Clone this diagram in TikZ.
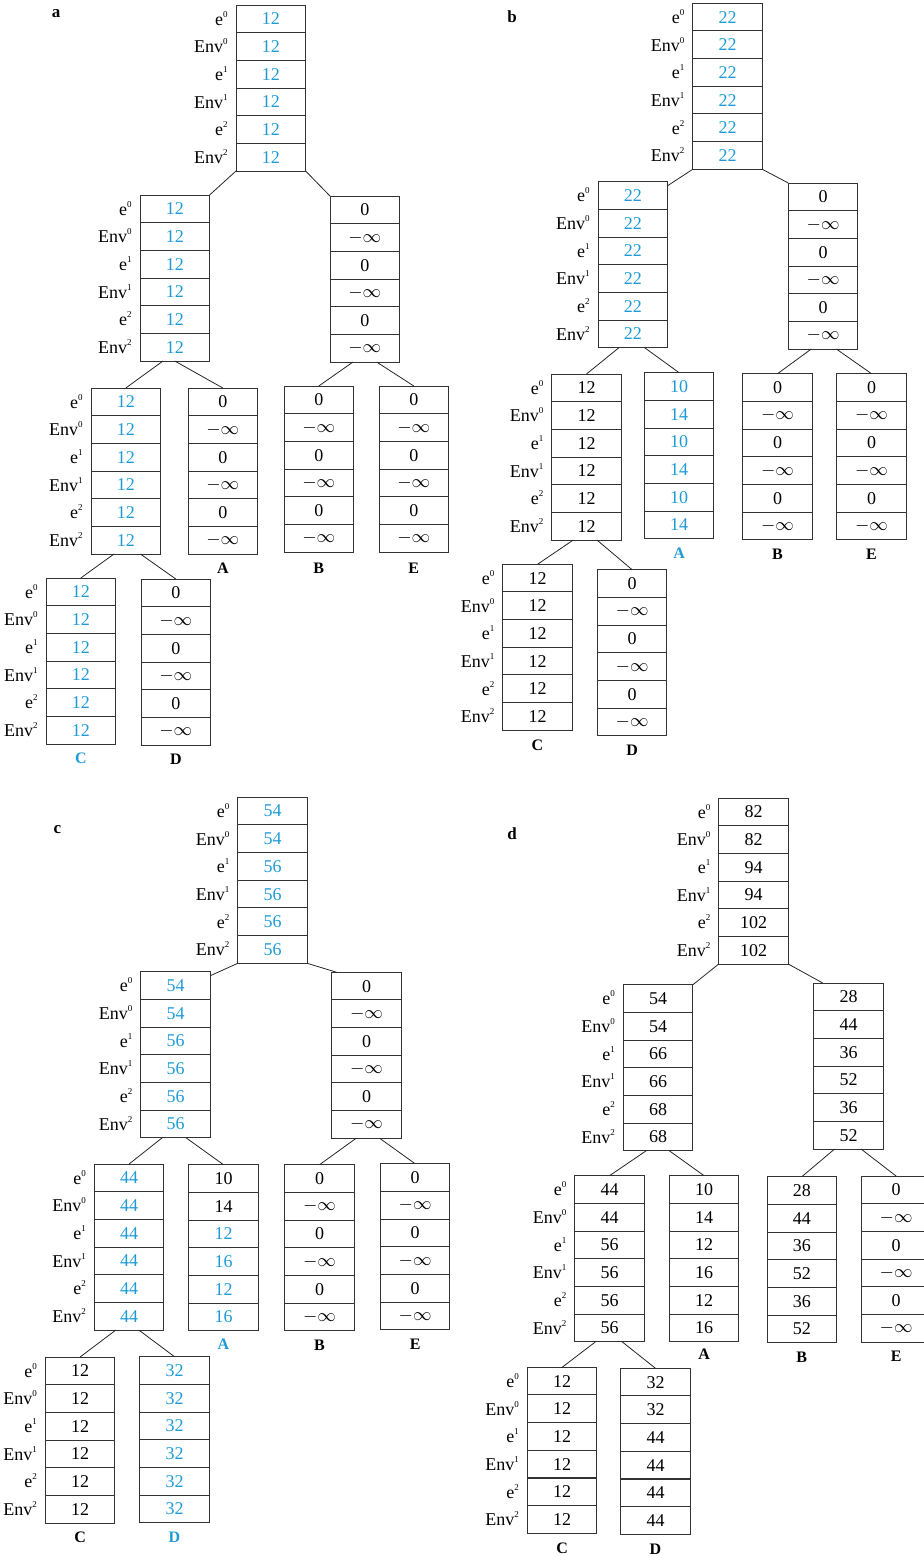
\documentclass[tikz,border=0pt]{standalone}
\usepackage{fontspec}
\setmainfont{Liberation Serif}
\usepackage{tikz}
\usetikzlibrary{positioning,fit,calc}
\definecolor{hlblue}{RGB}{30,155,215}
\tikzset{
  valcell/.style={draw=black!80, line width=0.5pt, minimum width=34.8pt, minimum height=13.83pt, inner sep=0pt, outer sep=0pt, font=\fontsize{9}{10}\selectfont},
  stackbox/.style={inner sep=0pt, outer sep=0pt},
  rowlbl/.style={anchor=base east, inner sep=0pt, font=\fontsize{9}{10}\selectfont},
  leaflbl/.style={inner sep=0pt, font=\fontsize{8}{9}\selectfont\bfseries},
  paneltag/.style={inner sep=0pt, font=\fontsize{8.5}{9}\selectfont\bfseries},
  treelink/.style={draw=black!85, line width=0.4pt}
}
\newcommand{\bl}[1]{\textcolor{hlblue}{#1}}
\newcommand{\ninf}{$-\infty$}
\newcommand{\supidx}[1]{\raisebox{0.95ex}{\fontsize{4.5}{5}\selectfont #1}}
% one stack of six cells: [text colour]{name}{left x}{top y}{values}
\newcommand{\cellstack}[5][black]{%
  \foreach \v [count=\i] in {#5} {
    \node[valcell, text=#1] (#2-\i) at ({#3+34.8},{#4+(\i-0.5)*27.67}) {\v};
  }
  \node[stackbox, fit=(#2-1)(#2-6)] (#2) {};
}
\newcommand{\rowlabels}[1]{%
  \foreach \t/\s [count=\i] in {e/0,Env/0,e/1,Env/1,e/2,Env/2}
    \node[rowlbl] at ([xshift=-4pt,yshift=-3.1pt]#1-\i.west) {\t\supidx{\s}};
}

\begin{document}
\begin{tikzpicture}[x=0.5pt,y=-0.5pt]
\useasboundingbox (0,0) rectangle (924,1557);

% panel a
\node[paneltag] (aTag) at (56,14) {a};
\cellstack[hlblue]{aRoot}{236}{5}{12,12,12,12,12,12}
\cellstack[hlblue]{aLeft}{140}{195}{12,12,12,12,12,12}
\cellstack{aRight}{330}{196}{0,\ninf,0,\ninf,0,\ninf}
\cellstack[hlblue]{aInner}{91}{388}{12,12,12,12,12,12}
\cellstack{aA}{188}{388}{0,\ninf,0,\ninf,0,\ninf}
\cellstack{aB}{284}{386}{0,\ninf,0,\ninf,0,\ninf}
\cellstack{aE}{379}{386}{0,\ninf,0,\ninf,0,\ninf}
\cellstack[hlblue]{aC}{46}{578}{12,12,12,12,12,12}
\cellstack{aD}{141}{579}{0,\ninf,0,\ninf,0,\ninf}
\rowlabels{aRoot}
\rowlabels{aLeft}
\rowlabels{aInner}
\rowlabels{aC}
\draw[treelink] (aRoot.south west) -- (aLeft.north east);
\draw[treelink] (aRoot.south east) -- (aRight.north west);
\draw[treelink] ($(aLeft.south west)!.33!(aLeft.south east)$) -- (aInner.north);
\draw[treelink] ($(aLeft.south west)!.5!(aLeft.south east)$) -- (aA.north);
\draw[treelink] ($(aRight.south west)!.33!(aRight.south east)$) -- (aB.north);
\draw[treelink] ($(aRight.south west)!.67!(aRight.south east)$) -- (aE.north);
\draw[treelink] ($(aInner.south west)!.33!(aInner.south east)$) -- (aC.north);
\draw[treelink] ($(aInner.south west)!.71!(aInner.south east)$) -- (aD.north);
\node[leaflbl, below=4.4pt of aA] (aAlbl) {A};
\node[leaflbl, below=5.5pt of aB] (aBlbl) {B};
\node[leaflbl, below=5.5pt of aE] (aElbl) {E};
\node[leaflbl, below=4.4pt of aC, text=hlblue] (aClbl) {C};
\node[leaflbl, below=4.4pt of aD] (aDlbl) {D};

% panel b
\node[paneltag] (bTag) at (512,17) {b};
\cellstack[hlblue]{bRoot}{692.7}{3.3}{22,22,22,22,22,22}
\cellstack[hlblue]{bLeft}{598}{181.7}{22,22,22,22,22,22}
\cellstack{bRight}{788.3}{183}{0,\ninf,0,\ninf,0,\ninf}
\cellstack{bInner}{551.7}{374}{12,12,12,12,12,12}
\cellstack[hlblue]{bA}{644.3}{372.7}{10,14,10,14,10,14}
\cellstack{bB}{742.7}{373.7}{0,\ninf,0,\ninf,0,\ninf}
\cellstack{bE}{836.7}{373.7}{0,\ninf,0,\ninf,0,\ninf}
\cellstack{bC}{502.7}{564.3}{12,12,12,12,12,12}
\cellstack{bD}{597.3}{569.7}{0,\ninf,0,\ninf,0,\ninf}
\rowlabels{bRoot}
\rowlabels{bLeft}
\rowlabels{bInner}
\rowlabels{bC}
\draw[treelink] (bRoot.south west) -- ([yshift=-2pt]bLeft.north east);
\draw[treelink] (bRoot.south east) -- (bRight.north west);
\draw[treelink] ($(bLeft.south west)!.3!(bLeft.south east)$) -- (bInner.north);
\draw[treelink] ($(bLeft.south west)!.67!(bLeft.south east)$) -- (bA.north);
\draw[treelink] ($(bRight.south west)!.33!(bRight.south east)$) -- (bB.north);
\draw[treelink] ($(bRight.south west)!.69!(bRight.south east)$) -- (bE.north);
\draw[treelink] ($(bInner.south west)!.31!(bInner.south east)$) -- (bC.north);
\draw[treelink] ($(bInner.south west)!.65!(bInner.south east)$) -- (bD.north);
\node[leaflbl, below=4.4pt of bA, text=hlblue] (bAlbl) {A};
\node[leaflbl, below=4.4pt of bB] (bBlbl) {B};
\node[leaflbl, below=4.4pt of bE] (bElbl) {E};
\node[leaflbl, below=4.4pt of bC] (bClbl) {C};
\node[leaflbl, below=4.4pt of bD] (bDlbl) {D};

% panel c
\node[paneltag] (cTag) at (57.3,829.3) {c};
\cellstack[hlblue]{cRoot}{237.7}{797.3}{54,54,56,56,56,56}
\cellstack[hlblue]{cLeft}{140.7}{971.7}{54,54,56,56,56,56}
\cellstack{cRight}{331.7}{972.3}{0,\ninf,0,\ninf,0,\ninf}
\cellstack[hlblue]{cInner}{94.3}{1164}{44,44,44,44,44,44}
\cellstack{cA}{188.7}{1164.7}{10,14,\bl{12},\bl{16},\bl{12},\bl{16}}
\cellstack{cB}{284.7}{1164.7}{0,\ninf,0,\ninf,0,\ninf}
\cellstack{cE}{380.3}{1163.7}{0,\ninf,0,\ninf,0,\ninf}
\cellstack{cC}{45.3}{1357}{12,12,12,12,12,12}
\cellstack[hlblue]{cD}{139.7}{1356.7}{32,32,32,32,32,32}
\rowlabels{cRoot}
\rowlabels{cLeft}
\rowlabels{cInner}
\rowlabels{cC}
\draw[treelink] (cRoot.south west) -- ([yshift=-2pt]cLeft.north east);
\draw[treelink] (cRoot.south east) -- ([xshift=2.5pt]cRight.north west);
\draw[treelink] ($(cLeft.south west)!.31!(cLeft.south east)$) -- (cInner.north);
\draw[treelink] ($(cLeft.south west)!.65!(cLeft.south east)$) -- (cA.north);
\draw[treelink] ($(cRight.south west)!.35!(cRight.south east)$) -- (cB.north);
\draw[treelink] ($(cRight.south west)!.69!(cRight.south east)$) -- (cE.north);
\draw[treelink] ($(cInner.south west)!.31!(cInner.south east)$) -- (cC.north);
\draw[treelink] ($(cInner.south west)!.64!(cInner.south east)$) -- (cD.north);
\node[leaflbl, below=3.8pt of cA, text=hlblue] (cAlbl) {A};
\node[leaflbl, below=4.2pt of cB] (cBlbl) {B};
\node[leaflbl, below=4.4pt of cE] (cElbl) {E};
\node[leaflbl, below=4.4pt of cC] (cClbl) {C};
\node[leaflbl, below=4.4pt of cD, text=hlblue] (cDlbl) {D};

% panel d
\node[paneltag] (dTag) at (512,833.3) {d};
\cellstack{dRoot}{718.7}{798}{82,82,94,94,102,102}
\cellstack{dLeft}{623.3}{984.7}{54,54,66,66,68,68}
\cellstack{dRight}{813.7}{983}{28,44,36,52,36,52}
\cellstack{dInner}{574.7}{1175.7}{44,44,56,56,56,56}
\cellstack{dA}{669.3}{1175.7}{10,14,12,16,12,16}
\cellstack{dB}{767}{1176.7}{28,44,36,52,36,52}
\cellstack{dE}{861.3}{1176}{0,\ninf,0,\ninf,0,\ninf}
\cellstack{dC}{527.3}{1367.3}{12,12,12,12,12,12}
\cellstack{dD}{620.7}{1368.3}{32,32,44,44,44,44}
\rowlabels{dRoot}
\rowlabels{dLeft}
\rowlabels{dInner}
\rowlabels{dC}
\draw[treelink] (dRoot.south west) -- (dLeft.north east);
\draw[treelink] (dRoot.south east) -- ([xshift=4.5pt]dRight.north west);
\draw[treelink] ($(dLeft.south west)!.33!(dLeft.south east)$) -- (dInner.north);
\draw[treelink] ($(dLeft.south west)!.66!(dLeft.south east)$) -- (dA.north);
\draw[treelink] ($(dRight.south west)!.3!(dRight.south east)$) -- (dB.north);
\draw[treelink] ($(dRight.south west)!.68!(dRight.south east)$) -- (dE.north);
\draw[treelink] ($(dInner.south west)!.3!(dInner.south east)$) -- (dC.north);
\draw[treelink] ($(dInner.south west)!.68!(dInner.south east)$) -- (dD.north);
\node[leaflbl, below=3.6pt of dA] (dAlbl) {A};
\node[leaflbl, below=4.2pt of dB] (dBlbl) {B};
\node[leaflbl, below=4.4pt of dE] (dElbl) {E};
\node[leaflbl, below=4.6pt of dC] (dClbl) {C};
\node[leaflbl, below=4.6pt of dD] (dDlbl) {D};
\end{tikzpicture}
\end{document}
